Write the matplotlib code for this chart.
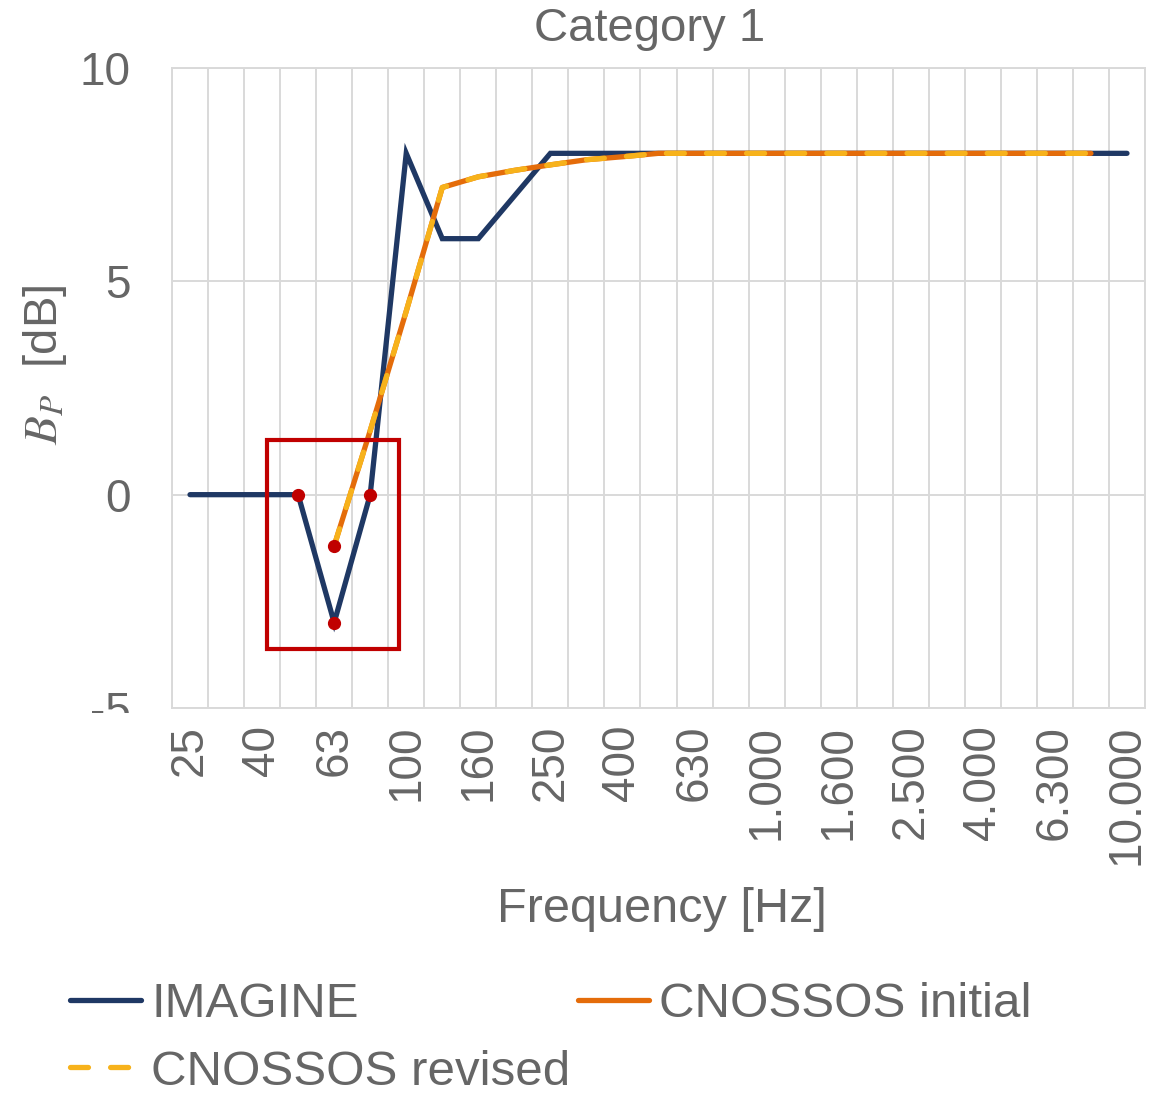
import numpy as np
import matplotlib
matplotlib.use('Agg')
import matplotlib.pyplot as plt
from matplotlib.patches import Rectangle

# 1/3 octave bands [Hz]
bands = [25, 31.5, 40, 50, 63, 80, 100, 125, 160, 200, 250, 315, 400, 500,
         630, 800, 1000, 1250, 1600, 2000, 2500, 3150, 4000, 5000, 6300, 8000, 10000]
band_labels = ['25', '', '40', '', '63', '', '100', '', '160', '', '250', '', '400', '',
               '630', '', '1.000', '', '1.600', '', '2.500', '', '4.000', '', '6.300', '', '10.000']

nan = np.nan
imagine = [0, 0, 0, 0, -3, 0, 8, 6, 6, 7, 8, 8, 8, 8,
           8, 8, 8, 8, 8, 8, 8, 8, 8, 8, 8, 8, 8]
cnossos_initial = [nan, nan, nan, nan, -1.2, 1.5, 4.3, 7.2, 7.45, 7.6, 7.73, 7.85, 7.92, 8,
                   8, 8, 8, 8, 8, 8, 8, 8, 8, 8, 8, 8, nan]
cnossos_revised = [nan, nan, nan, nan, -1.2, 1.5, 4.3, 7.2, 7.45, 7.6, 7.73, 7.85, 7.92, 8,
                   8, 8, 8, 8, 8, 8, 8, 8, 8, 8, 8, 8, nan]

# highlighted points (band index)
hl_imagine = [3, 4, 5]
hl_cnossos = [4]

GRAY_TXT = '#666666'
GRID = '#d9d9d9'
NAVY = '#1f3864'
ORANGE = '#e46c0a'
YELLOW = '#f7b21b'
RED = '#c00000'

plt.rcParams['font.family'] = ['Liberation Sans', 'DejaVu Sans']
plt.rcParams['mathtext.fontset'] = 'stix'

fig = plt.figure(figsize=(11.65, 10.94), dpi=100)
ax = fig.add_axes([172/1165, 1-708/1094, (1145-172)/1165, (708-68)/1094])

x = np.arange(len(bands))
ax.plot(x, imagine, color=NAVY, lw=3.8, solid_capstyle='round', solid_joinstyle='miter', zorder=3, label='IMAGINE')
ax.plot(x, cnossos_initial, color=ORANGE, lw=3.8, solid_capstyle='round', zorder=4, label='CNOSSOS initial')
ax.plot(x, cnossos_revised, color=YELLOW, lw=3.8, dashes=(3.4, 4.2), dash_capstyle='round', zorder=5,
        label='CNOSSOS revised')

ax.plot(hl_imagine, [imagine[i] for i in hl_imagine], 'o', color=RED, ms=8.5, zorder=6)
ax.plot(hl_cnossos, [cnossos_initial[i] for i in hl_cnossos], 'o', color=RED, ms=8.5, zorder=6)
ax.add_patch(Rectangle((2.13, -3.61), 3.66, 4.9, fill=False, ec=RED, lw=3, zorder=7))

ax.set_xlim(-0.5, len(bands) - 0.5)
ax.set_ylim(-5, 10)
ax.set_xticks(x)
ax.set_xticklabels(band_labels, rotation=90, fontsize=33, color=GRAY_TXT, va='top')
ax.set_xticks(np.arange(-0.5, len(bands), 1), minor=True)
ax.set_yticks([-5, 0, 5, 10])
ax.set_yticklabels(['-5', '0', '5', '10'], fontsize=33, color=GRAY_TXT)
ax.tick_params(axis='x', which='both', length=0, pad=12)
ax.tick_params(axis='y', length=0, pad=30)
ax.grid(True, axis='x', which='minor', color=GRID, lw=1.4)
ax.grid(True, axis='y', which='major', color=GRID, lw=1.4)
for s in ax.spines.values():
    s.set_color(GRID)
    s.set_linewidth(1.4)

# the -5 label is half hidden in the reference
fig.patches.append(Rectangle((40/1165, 1-760/1094), 125/1165, 47/1094, transform=fig.transFigure,
                             fc='white', ec='none', zorder=10))

fig.text(650/1165, 1-29/1094, 'Category 1', fontsize=34, color=GRAY_TXT, ha='center', va='center')
fig.text(662/1165, 1-909/1094, 'Frequency [Hz]', fontsize=35, color=GRAY_TXT, ha='center', va='center')
fig.text(45/1165, 1-365/1094, r'$B_P$  [dB]', fontsize=34, color=GRAY_TXT, ha='center', va='center',
         rotation=90)

h, l = ax.get_legend_handles_labels()
order = [0, 2, 1]
leg = fig.legend([h[i] for i in order], [l[i] for i in order], ncol=2, frameon=False,
                 loc='upper left', bbox_to_anchor=(70/1165, 1-982/1094), fontsize=35.5,
                 handlelength=1.45, handletextpad=0.2, columnspacing=0.15, labelspacing=0.46,
                 borderpad=0, borderaxespad=0)
for t in leg.get_texts():
    t.set_color(GRAY_TXT)

fig.savefig('out.png', dpi=100)
